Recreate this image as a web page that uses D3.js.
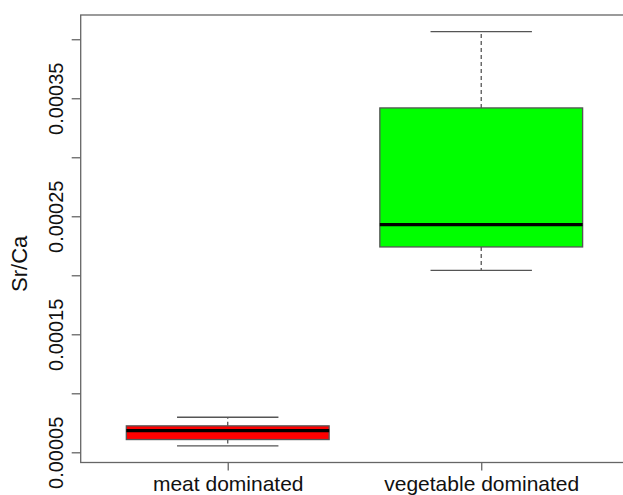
<!DOCTYPE html>
<html>
<head>
<meta charset="utf-8">
<script src="https://cdn.jsdelivr.net/npm/d3@7"></script>
<style>
  html, body { margin: 0; padding: 0; background: #fff; }
  svg { display: block; }
  text { font-family: "Liberation Sans", Arial, sans-serif; fill: #111; }
</style>
</head>
<body>
<svg id="chart" width="623" height="495"></svg>
<script>
const categories = ["meat dominated", "vegetable dominated"];
const whiskerLow  = [0.0000554, 0.0002042];
const q1          = [0.0000608, 0.0002240];
const median      = [0.0000684, 0.0002430];
const q3          = [0.0000724, 0.0003418];
const whiskerHigh = [0.0000797, 0.0004065];
const boxColors   = ["#ff0000", "#00ff00"];
const yTicks      = [0.00005, 0.0001, 0.00015, 0.0002, 0.00025, 0.0003, 0.00035, 0.0004];
const yTickLabels = ["0.00005", "", "0.00015", "", "0.00025", "", "0.00035", ""];
const yTitle = "Sr/Ca";

const svg = d3.select("#chart");
const plotLeft = 80.7, plotTop = 15, plotBottom = 462.5;

const dataMin = d3.min(whiskerLow), dataMax = d3.max(whiskerHigh);
const pad = (dataMax - dataMin) * 0.04;
const y = d3.scaleLinear().domain([dataMin - pad, dataMax + pad]).range([plotBottom, plotTop]);
const unit = 253.5;
const x = d3.scaleLinear().domain([0.42, 2.58]).range([plotLeft, plotLeft + 2.16 * unit]);

const boxHalf = 0.4, capHalf = 0.2;
const lineCol = "#555";

// plot frame
svg.append("rect")
  .attr("x", plotLeft).attr("y", plotTop)
  .attr("width", x(2.58) - plotLeft).attr("height", plotBottom - plotTop)
  .attr("fill", "none").attr("stroke", "#666").attr("stroke-width", 1.3);

// y axis
const yAxis = d3.axisLeft(y).tickValues(yTicks)
  .tickFormat((d, i) => yTickLabels[i]).tickSize(9).tickPadding(10);
const gy = svg.append("g").attr("transform", `translate(${plotLeft},0)`).call(yAxis);
gy.select(".domain").remove();
gy.selectAll(".tick line").attr("stroke", "#666").attr("stroke-width", 1.3);
gy.selectAll(".tick text")
  .attr("font-size", 20).attr("fill", "#111")
  .attr("text-anchor", "middle")
  .attr("x", null).attr("dy", null).attr("y", 0)
  .attr("transform", "translate(-18,0) rotate(-90)");

// x axis
const xAxis = d3.axisBottom(x).tickValues([1, 2])
  .tickFormat((d) => categories[d - 1]).tickSize(8).tickPadding(6);
const gx = svg.append("g").attr("transform", `translate(0,${plotBottom})`).call(xAxis);
gx.select(".domain").remove();
gx.selectAll(".tick line").attr("stroke", "#666").attr("stroke-width", 1.3);
gx.selectAll(".tick text").attr("font-size", 21).attr("fill", "#111").attr("dy", "0.7em");

// y title
svg.append("text")
  .attr("transform", `translate(27,${(plotTop + plotBottom) / 2 + 25}) rotate(-90)`)
  .attr("text-anchor", "middle").attr("font-size", 22).text(yTitle);

// boxes
const idx = d3.range(categories.length);
const g = svg.append("g");
idx.forEach(i => {
  const cx = x(i + 1);
  g.append("line").attr("x1", cx).attr("x2", cx)
    .attr("y1", y(q3[i])).attr("y2", y(whiskerHigh[i]))
    .attr("stroke", lineCol).attr("stroke-width", 1.3).attr("stroke-dasharray", "4,3");
  g.append("line").attr("x1", cx).attr("x2", cx)
    .attr("y1", y(q1[i])).attr("y2", y(whiskerLow[i]))
    .attr("stroke", lineCol).attr("stroke-width", 1.3).attr("stroke-dasharray", "4,3");
  [whiskerHigh[i], whiskerLow[i]].forEach(v => {
    g.append("line").attr("x1", x(i + 1 - capHalf)).attr("x2", x(i + 1 + capHalf))
      .attr("y1", y(v)).attr("y2", y(v))
      .attr("stroke", lineCol).attr("stroke-width", 1.3);
  });
  g.append("rect")
    .attr("x", x(i + 1 - boxHalf)).attr("width", x(i + 1 + boxHalf) - x(i + 1 - boxHalf))
    .attr("y", y(q3[i])).attr("height", y(q1[i]) - y(q3[i]))
    .attr("fill", boxColors[i]).attr("stroke", lineCol).attr("stroke-width", 1.3);
  g.append("line").attr("x1", x(i + 1 - boxHalf)).attr("x2", x(i + 1 + boxHalf))
    .attr("y1", y(median[i])).attr("y2", y(median[i]))
    .attr("stroke", "#000").attr("stroke-width", 3.2);
});
</script>
</body>
</html>
